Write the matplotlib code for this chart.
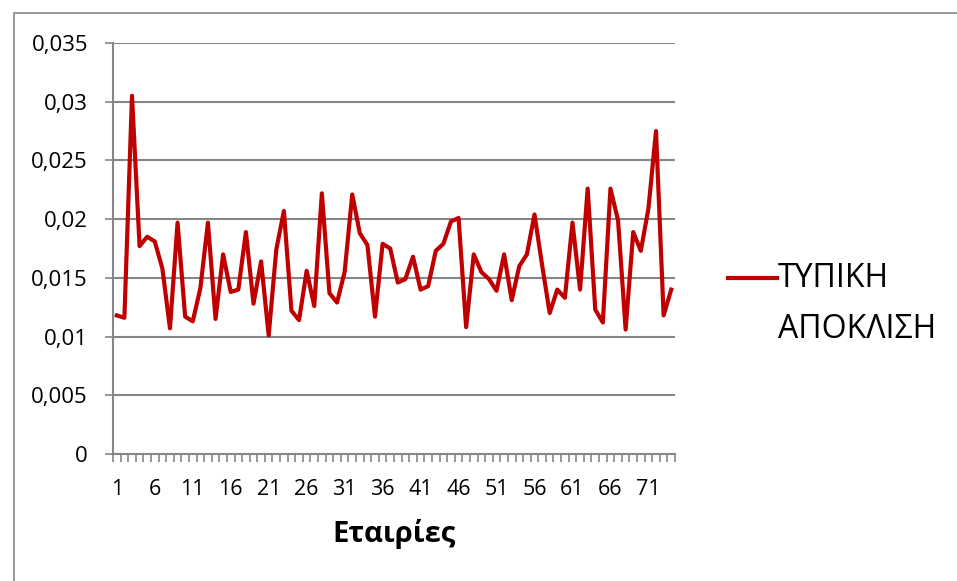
import numpy as np
import matplotlib.pyplot as plt
from matplotlib.patches import Rectangle
from matplotlib.lines import Line2D

# standard deviation per company (74 companies)
companies = np.arange(1, 75)
std_dev = [
    0.0118, 0.0116, 0.0305, 0.0177, 0.0185, 0.0181, 0.0158, 0.0107, 0.0197, 0.0117,
    0.0113, 0.0141, 0.0197, 0.0115, 0.0170, 0.0138, 0.0140, 0.0189, 0.0128, 0.0164,
    0.0101, 0.0174, 0.0207, 0.0122, 0.0114, 0.0156, 0.0126, 0.0222, 0.0137, 0.0129,
    0.0155, 0.0221, 0.0188, 0.0178, 0.0117, 0.0179, 0.0175, 0.0146, 0.0149, 0.0168,
    0.0140, 0.0143, 0.0173, 0.0179, 0.0198, 0.0201, 0.0108, 0.0170, 0.0155, 0.0149,
    0.0139, 0.0170, 0.0131, 0.0160, 0.0170, 0.0204, 0.0161, 0.0120, 0.0140, 0.0133,
    0.0197, 0.0140, 0.0226, 0.0123, 0.0112, 0.0226, 0.0199, 0.0106, 0.0189, 0.0173,
    0.0209, 0.0275, 0.0118, 0.0140,
]
tick_labels = list(range(1, 75, 5))
y_ticks = [0, 0.005, 0.01, 0.015, 0.02, 0.025, 0.03, 0.035]
series_lines = ["ΤΥΠΙΚΗ", "ΑΠΟΚΛΙΣΗ"]

red = "#C00000"
grey = "#868686"
W, H = 957, 581
plt.rcParams["font.family"] = ["Open Sans", "DejaVu Sans"]

fig = plt.figure(figsize=(W / 100, H / 100), dpi=100)
# chart frame
fig.patches.append(Rectangle((14 / W, -0.1), 1.1, 1 - 13 / H + 0.1,
                             transform=fig.transFigure, fill=False,
                             edgecolor=grey, linewidth=1.2))

ax = fig.add_axes([113 / W, 1 - 454 / H, (675 - 113) / W, (454 - 43) / H])
ax.plot(companies, std_dev, color=red, linewidth=3.0, solid_joinstyle="round")

ax.set_xlim(0.5, 74.5)
ax.set_ylim(0, 0.035)
ax.set_yticks(y_ticks)
ax.set_yticklabels(["0" if v == 0 else f"{v:g}".replace(".", ",") for v in y_ticks])
ax.set_xticks(tick_labels)
ax.set_xticklabels([str(t) for t in tick_labels])
ax.set_xticks(np.arange(0.5, 75, 1), minor=True)

ax.grid(axis="y", color=grey, linewidth=1.5)
ax.set_axisbelow(True)
for side in ("top", "right"):
    ax.spines[side].set_visible(False)
for side in ("left", "bottom"):
    ax.spines[side].set_color(grey)
    ax.spines[side].set_linewidth(1.5)

ax.tick_params(axis="y", length=6, width=1.2, color=grey, labelsize=16, pad=12)
ax.tick_params(axis="x", which="major", length=0, labelsize=15.5, pad=18)
ax.tick_params(axis="x", which="minor", length=6, width=1.2, color=grey)

ax.set_xlabel("Εταιρίες", fontsize=21, fontweight="bold", labelpad=14)

# legend drawn by hand so the two-line entry gets wide line spacing
fig.add_artist(Line2D([728 / W, 777 / W], [1 - 278 / H, 1 - 278 / H],
                      transform=fig.transFigure, color=red, linewidth=3.0))
for i, txt in enumerate(series_lines):
    fig.text(778 / W, 1 - (278 + 52 * i) / H, txt, fontsize=23,
             ha="left", va="center")

fig.savefig("out.png", dpi=100)
